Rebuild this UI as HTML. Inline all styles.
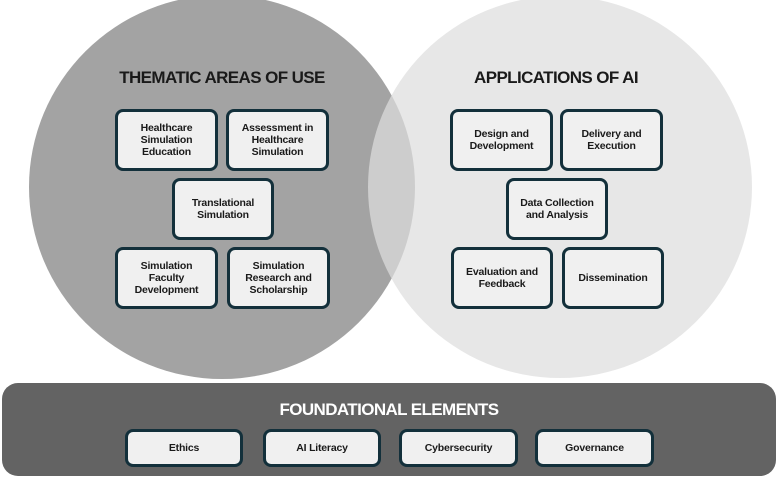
<!DOCTYPE html>
<html><head><meta charset="utf-8"><style>
body{margin:0;width:778px;height:478px;background:#fff;position:relative;overflow:hidden;font-family:"Liberation Sans",sans-serif}
.c{position:absolute;border-radius:50%}
.b{position:absolute;box-sizing:border-box;border:3px solid #13303b;border-radius:8px;background:#f0f0f0;display:flex;align-items:center;justify-content:center;text-align:center;font-weight:bold;font-size:10.5px;line-height:12px;color:#1a1a1a;letter-spacing:-0.2px}
.t{position:absolute;font-weight:bold;font-size:17px;color:#1a1a1a;letter-spacing:-0.6px;text-align:center}
</style></head><body>
<div class="c" style="left:29px;top:-5px;width:386px;height:384px;background:#a3a3a3"></div>
<div class="c" style="left:368px;top:-4px;width:384px;height:382px;background:rgba(222,222,222,0.72)"></div>
<div class="t" style="left:72px;width:300px;top:68px">THEMATIC AREAS OF USE</div>
<div class="t" style="left:406px;width:300px;top:68px">APPLICATIONS OF AI</div>
<div class="b" style="left:115px;top:109px;width:103px;height:62px">Healthcare<br>Simulation<br>Education</div>
<div class="b" style="left:226px;top:109px;width:103px;height:62px">Assessment in<br>Healthcare<br>Simulation</div>
<div class="b" style="left:172px;top:178px;width:102px;height:62px">Translational<br>Simulation</div>
<div class="b" style="left:115px;top:247px;width:103px;height:62px">Simulation<br>Faculty<br>Development</div>
<div class="b" style="left:227px;top:247px;width:103px;height:62px">Simulation<br>Research and<br>Scholarship</div>
<div class="b" style="left:450px;top:109px;width:103px;height:62px">Design and<br>Development</div>
<div class="b" style="left:560px;top:109px;width:103px;height:62px">Delivery and<br>Execution</div>
<div class="b" style="left:506px;top:178px;width:102px;height:62px">Data Collection<br>and Analysis</div>
<div class="b" style="left:451px;top:247px;width:102px;height:62px">Evaluation and<br>Feedback</div>
<div class="b" style="left:562px;top:247px;width:102px;height:62px">Dissemination</div>
<div style="position:absolute;left:2px;top:383px;width:774px;height:93px;background:#636363;border-radius:16px"></div>
<div class="t" style="left:189px;width:400px;top:400px;color:#fff">FOUNDATIONAL ELEMENTS</div>
<div class="b" style="left:125px;top:429px;width:118px;height:38px">Ethics</div>
<div class="b" style="left:263px;top:429px;width:118px;height:38px">AI Literacy</div>
<div class="b" style="left:399px;top:429px;width:119px;height:38px">Cybersecurity</div>
<div class="b" style="left:535px;top:429px;width:119px;height:38px">Governance</div>
</body></html>
